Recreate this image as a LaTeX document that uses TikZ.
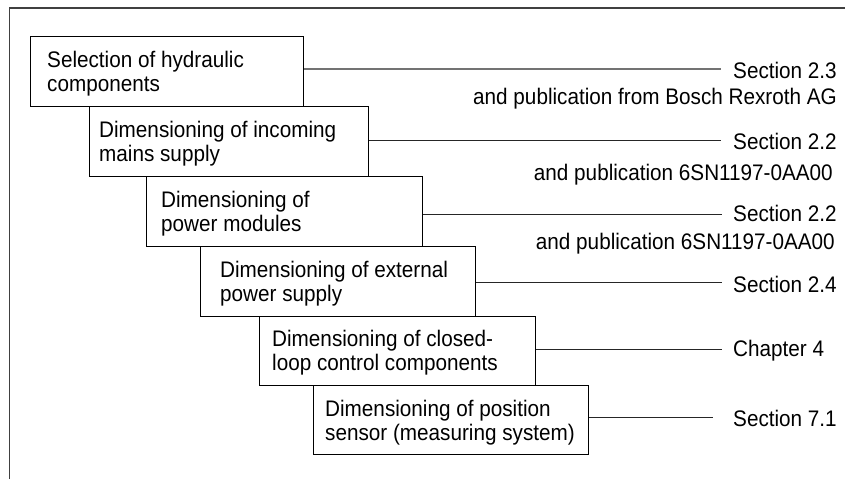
\documentclass[tikz,border=0pt]{standalone}
\usepackage{fontspec}
\setmainfont[FakeStretch=0.92]{Liberation Sans}
\newcommand{\twoln}[2]{\begin{tabular}[t]{@{}l@{}}#1\\#2\end{tabular}}
\begin{document}
\begin{tikzpicture}[x=1pt,y=-1pt,
  box/.style={draw=black, line width=1.1pt, anchor=north west, minimum height=70pt, inner sep=0pt},
  txt/.style={anchor=base west, inner sep=0pt, font=\fontsize{22.5}{24}\selectfont},
  ref/.style={anchor=base west, inner sep=0pt, font=\fontsize{22.5}{24}\selectfont},
  pub/.style={anchor=base east, inner sep=0pt, font=\fontsize{22.5}{24}\selectfont},
  conn/.style={line width=0.9pt, draw=black!85},
  frame/.style={line width=1.8pt, draw=black!75}]
\useasboundingbox (0,0) rectangle (845,479);
% frame
\draw[frame] (9.5,479) -- (9.5,8) -- (845,8);
% boxes
\node[box, minimum width=273pt] (b1) at (30,36) {};
\node[box, minimum width=279pt] (b2) at (89,106) {};
\node[box, minimum width=276pt] (b3) at (146,176) {};
\node[box, minimum width=275pt] (b4) at (200,246) {};
\node[box, minimum width=276pt, minimum height=69pt] (b5) at (259,316) {};
\node[box, minimum width=275pt, minimum height=69pt] (b6) at (313,385) {};
% box texts
\node[txt] (t1) at (47,67.7) {\twoln{Selection of hydraulic}{components}};
\node[txt] (t2) at (99,137.7) {\twoln{Dimensioning of incoming}{mains supply}};
\node[txt] (t3) at (161,207.7) {\twoln{Dimensioning of}{power modules}};
\node[txt] (t4) at (220,277.7) {\twoln{Dimensioning of external}{power supply}};
\node[txt] (t5) at (272,346.7) {\twoln{Dimensioning of closed-}{loop control components}};
\node[txt] (t6) at (325,416.5) {\twoln{Dimensioning of position}{sensor (measuring system)}};
% connector ends
\coordinate (e1) at (721,69);
\coordinate (e2) at (721,140);
\coordinate (e3) at (722,214);
\coordinate (e4) at (722,282);
\coordinate (e5) at (722,349);
\coordinate (e6) at (713,417);
\draw[conn, draw=black!55, line width=1.3pt] (b1.east |- e1) -- (e1);
\draw[conn] (b2.east |- e2) -- (e2);
\draw[conn] (b3.east |- e3) -- (e3);
\draw[conn] (b4.east |- e4) -- (e4);
\draw[conn] (b5.east |- e5) -- (e5);
\draw[conn] (b6.east |- e6) -- (e6);
% references
\node[ref] (s1) at (733,78) {Section 2.3};
\node[pub] (p1) at (837,104) {and publication from Bosch Rexroth AG};
\node[ref] (s2) at (733,149) {Section 2.2};
\node[pub] (p2) at (833,180) {and publication 6SN1197-0AA00};
\node[ref] (s3) at (733,221) {Section 2.2};
\node[pub] (p3) at (835,249) {and publication 6SN1197-0AA00};
\node[ref] (s4) at (733,292) {Section 2.4};
\node[ref] (s5) at (733,356) {Chapter 4};
\node[ref] (s6) at (733,426) {Section 7.1};
\end{tikzpicture}
\end{document}
